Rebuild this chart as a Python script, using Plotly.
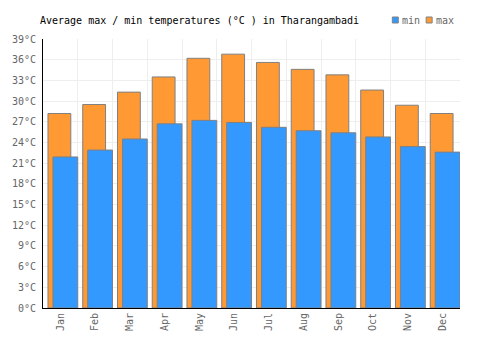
import plotly.graph_objects as go

months = ["Jan", "Feb", "Mar", "Apr", "May", "Jun", "Jul", "Aug", "Sep", "Oct", "Nov", "Dec"]
t_max = [28.2, 29.5, 31.3, 33.5, 36.2, 36.8, 35.6, 34.6, 33.8, 31.6, 29.4, 28.2]
t_min = [21.9, 22.9, 24.5, 26.7, 27.2, 26.9, 26.2, 25.7, 25.4, 24.8, 23.4, 22.6]
y_ticks = list(range(0, 40, 3))
y_labels = [f"{v}°C" for v in y_ticks]
series_names = ["min", "max"]
series_colors = ["#3399FF", "#FF9933"]

xs = list(range(len(months)))
font = "DejaVu Sans Mono"
W, H = 500, 350

fig = go.Figure()
fig.add_trace(go.Bar(
    x=xs, y=t_max, name="max", width=0.657, offset=-0.357,
    marker=dict(color=series_colors[1], line=dict(color="#808080", width=1)),
))
fig.add_trace(go.Bar(
    x=xs, y=t_min, name="min", width=0.714, offset=-0.214,
    marker=dict(color=series_colors[0], line=dict(color="#808080", width=1)),
))
fig.add_trace(go.Scatter(x=[0], y=[0], xaxis="x2", mode="markers",
                         marker=dict(opacity=0), showlegend=False, hoverinfo="skip"))

# manual legend
shapes = []
annotations = []
leg_x = [392, 426]
for lx, name, col in zip(leg_x, series_names, series_colors):
    shapes.append(dict(type="rect", xref="paper", yref="paper",
                       x0=(lx - 41) / (W - 81), x1=(lx + 6 - 41) / (W - 81),
                       y0=(308 - 23) / 269, y1=(308 - 17) / 269,
                       fillcolor=col, line=dict(color="#808080", width=1)))
    annotations.append(dict(xref="paper", yref="paper", x=(lx + 8 - 41) / (W - 81),
                            y=(308 - 20) / 269, xanchor="left", yanchor="middle",
                            text=name, showarrow=False,
                            font=dict(family=font, size=10, color="#666666")))

fig.update_layout(
    width=W, height=H,
    margin=dict(l=41, r=40, t=39, b=42),
    barmode="overlay",
    showlegend=False,
    paper_bgcolor="white", plot_bgcolor="white",
    font=dict(family=font, size=10, color="#666666"),
    title=dict(text="Average max / min temperatures (°C ) in Tharangambadi",
               x=40 / W, xanchor="left", y=1 - 20 / H, yanchor="middle",
               font=dict(family=font, size=10, color="black")),
    shapes=shapes,
    annotations=annotations,
    xaxis=dict(range=[-0.5, 11.5], tickmode="array", tickvals=xs, ticktext=months,
               tickangle=-90, showgrid=False, showline=True, linecolor="black", linewidth=1,
               ticks="", zeroline=False),
    xaxis2=dict(range=[-0.5, 11.5], overlaying="x", tickmode="array",
                tickvals=[i - 0.5 for i in range(13)], showticklabels=False,
                showgrid=True, gridcolor="#EEEEEE", gridwidth=1, zeroline=False, layer="below traces"),
    yaxis=dict(range=[0, 39], tickmode="array", tickvals=y_ticks, ticktext=y_labels,
               showgrid=True, gridcolor="#EEEEEE", gridwidth=1, showline=True,
               linecolor="black", linewidth=1, ticks="", zeroline=False,
               ticklabelstandoff=4),
)

fig.write_html("out.html")
